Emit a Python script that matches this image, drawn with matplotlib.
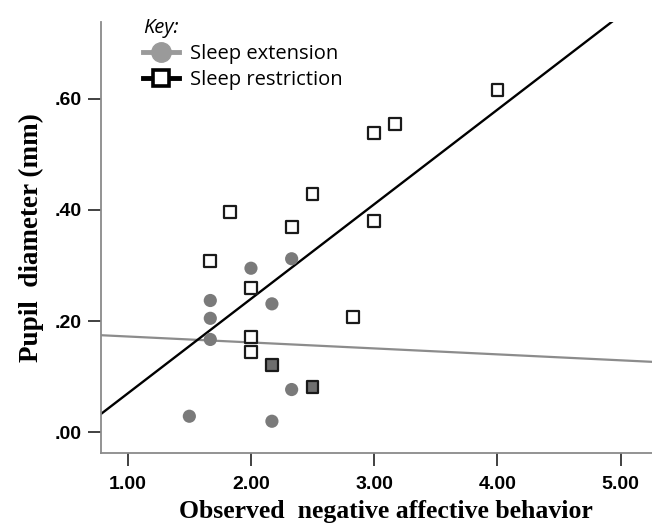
import numpy as np
import matplotlib
matplotlib.use("Agg")
import matplotlib.pyplot as plt
from matplotlib.lines import Line2D
from matplotlib.ticker import FuncFormatter

# Sleep extension (grey circles)
ext_x = [2.33, 2.00, 1.67, 2.17, 1.67, 1.67, 2.33, 1.50, 2.17]
ext_y = [0.312, 0.295, 0.237, 0.231, 0.205, 0.167, 0.077, 0.029, 0.020]

# Sleep restriction (open squares; two overlap an extension point -> filled)
res_x = [4.00, 3.00, 3.17, 2.50, 1.83, 2.33, 3.00, 1.67, 2.00, 2.83, 2.00, 2.00, 2.17, 2.50]
res_y = [0.616, 0.538, 0.554, 0.429, 0.396, 0.369, 0.380, 0.308, 0.259, 0.207, 0.172, 0.145, 0.121, 0.081]
res_fill = ["white"] * 12 + ["#6e6e6e", "#6e6e6e"]

# fit lines (intercept, slope)
ext_fit = (0.183, -0.0107)
res_fit = (-0.100, 0.170)

x_ticks = [1, 2, 3, 4, 5]
y_ticks = [0.0, 0.2, 0.4, 0.6]

fig = plt.figure(figsize=(6.52, 5.26), dpi=100)
ax = fig.add_axes([0.1545, 0.138, 0.8455, 0.8207])
ax.set_xlim(0.781, 5.254)
ax.set_ylim(-0.0378, 0.738)

xx = np.array([0.781, 5.254])
ax.plot(xx, ext_fit[0] + ext_fit[1] * xx, color="#8c8c8c", lw=1.6, zorder=2)
ax.plot(xx, res_fit[0] + res_fit[1] * xx, color="black", lw=1.7, zorder=2)

ax.scatter(ext_x, ext_y, s=90, color="#7a7a7a", edgecolors="none", zorder=3)
ax.scatter(res_x, res_y, s=72, marker="s", facecolors=res_fill,
           edgecolors="#1a1a1a", linewidths=1.6, zorder=4)

for side in ["top", "right"]:
    ax.spines[side].set_visible(False)
for side in ["left", "bottom"]:
    ax.spines[side].set_color("#8a8a8a")
    ax.spines[side].set_linewidth(1.3)

ax.set_xticks(x_ticks)
ax.set_yticks(y_ticks)
ax.xaxis.set_major_formatter(FuncFormatter(lambda v, p: "%.2f" % v))
ax.yaxis.set_major_formatter(FuncFormatter(lambda v, p: ("%.2f" % v).lstrip("0")))
ax.tick_params(length=9.5, width=1.3, color="#333333")
ax.tick_params(axis="x", pad=7)
ax.tick_params(axis="y", pad=4.5)
for lab in ax.get_xticklabels() + ax.get_yticklabels():
    lab.set_fontfamily("Liberation Sans")
    lab.set_fontweight("bold")
    lab.set_fontsize(14)

ax.set_xlabel("Observed  negative affective behavior", fontfamily="Liberation Serif",
              fontweight="bold", fontsize=18.5)
ax.xaxis.set_label_coords(0.5175, -0.108)
ax.set_ylabel("Pupil  diameter (mm)", fontfamily="Liberation Serif",
              fontweight="bold", fontsize=19.5, labelpad=7)

handles = [
    Line2D([], [], color="#9a9a9a", lw=3.5, marker="o", markersize=14,
           markerfacecolor="#9a9a9a", markeredgecolor="#9a9a9a"),
    Line2D([], [], color="black", lw=3.5, marker="s", markersize=12,
           markerfacecolor="white", markeredgecolor="black", markeredgewidth=2.6),
]
leg = fig.legend(handles, ["Sleep extension", "Sleep restriction"], title="Key:",
                 loc="upper left", bbox_to_anchor=(0.219, 0.965), frameon=False,
                 alignment="left", handlelength=1.8, handletextpad=0.55,
                 labelspacing=0.3, borderaxespad=0, borderpad=0,
                 prop={"family": "Open Sans", "size": 14.5})
leg.get_title().set_fontstyle("italic")
leg.get_title().set_fontfamily("Open Sans")
leg.get_title().set_fontsize(14.5)

fig.savefig("out.png", dpi=100)
